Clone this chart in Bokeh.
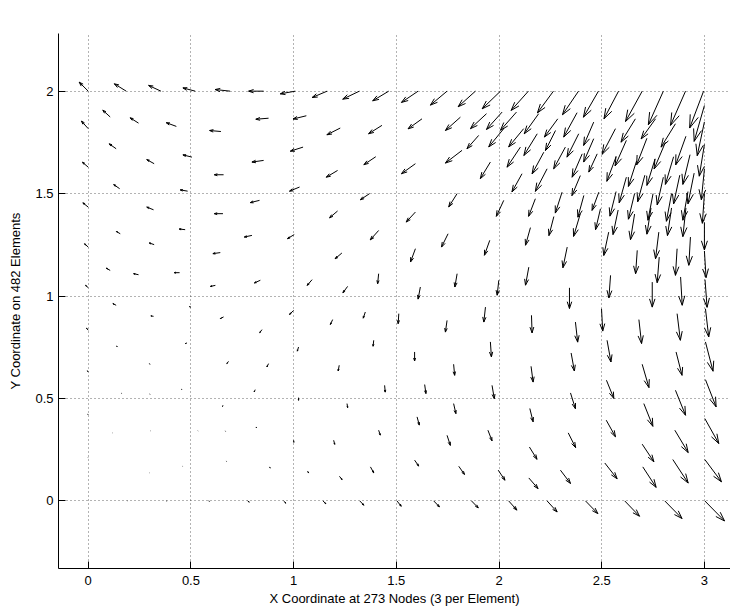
import numpy as np
from bokeh.plotting import figure
from bokeh.models import Range1d, FixedTicker, Label
from bokeh.embed import file_html
from bokeh.resources import INLINE

# ---------------- data (node position + drawn flux vector) -------------
node_x = [
    # top edge y = 2
    0.000, 0.185, 0.354, 0.521, 0.691, 0.854, 1.008, 1.163, 1.320, 1.463, 1.606, 1.747,
    1.885, 2.007, 2.143, 2.265, 2.387, 2.484, 2.582, 2.697, 2.800, 2.908, 2.996,
    # left edge x = 0
    0.000, 0.000, 0.000, 0.000, 0.000, 0.000, 0.000, 0.000, 0.000,
    # bottom edge y = 0
    0.000, 0.190, 0.380, 0.586, 0.776, 0.951, 1.143, 1.322, 1.503, 1.682, 1.866, 2.047,
    2.234, 2.421, 2.612, 2.807, 3.002,
    # upper left interior
    0.107, 0.245, 0.429, 0.646, 0.878, 1.062, 1.227, 0.136, 0.321, 0.505, 0.854, 0.659,
    1.046, 1.214, 1.400, 0.153, 0.484, 1.029, 0.318, 0.656, 0.834, 1.214, 0.156, 0.472,
    0.321, 0.797, 1.003, 0.643, 1.235, 0.107, 0.245, 0.445, 0.619, 0.838, 1.090, 1.263, 1.370,
    # lower left interior
    0.136, 0.318, 0.497, 0.659, 1.000, 1.190, 0.846, 0.143, 0.481, 1.024, 0.302, 0.683,
    0.878, 1.222, 0.456, 0.164, 0.302, 0.813, 1.024, 1.260, 0.656, 0.120, 0.302, 0.534,
    0.667, 0.818, 1.000, 1.195, 0.151, 0.297, 0.459, 0.672, 0.883, 1.068, 1.223, 1.349,
    # lower right interior
    1.374, 1.589, 1.804, 1.996, 2.145, 2.299, 2.515, 2.700, 2.846, 3.002,
    1.414, 1.601, 1.747, 1.946, 2.148, 2.337, 2.522, 2.697, 2.856, 3.002,
    1.443, 1.638, 1.779, 1.966, 2.150, 2.348, 2.523, 2.705, 2.859, 3.005,
    1.390, 1.589, 1.779, 1.958, 2.156, 2.351, 2.526, 2.697, 2.862, 3.005,
    1.512, 1.747, 1.934, 2.158, 2.372, 2.499, 2.681, 2.867, 3.005,
    # upper middle
    1.430, 1.625, 1.812, 1.820, 1.593, 1.796, 1.593, 1.752, 1.414, 1.593, 1.414, 1.617,
    1.796, 1.999, 2.145, 2.343, 2.332, 2.543, 2.746, 2.884,
    2.023, 2.177, 2.307, 2.413, 2.486, 2.494, 2.267, 2.396, 2.153, 1.955,
    2.534, 2.673, 2.778, 2.867, 2.932,
    1.939, 2.015, 2.085, 2.193, 2.286, 2.380, 2.461, 2.023, 2.120, 2.186, 2.275, 2.388,
    2.461, 1.901, 2.104, 2.218, 2.323, 2.405, 2.478, 1.958, 2.112, 2.234, 2.396,
    # upper right corner
    2.664, 2.762, 2.859, 2.567, 2.620, 2.720, 2.810, 2.910, 2.570, 2.670, 2.760, 2.850,
    2.930, 2.620, 2.710, 2.800, 2.880, 2.950, 2.570, 2.660, 2.750, 2.840, 2.920, 2.580,
    2.660, 2.740, 2.840, 2.910, 2.780,
    # right edge x = 3
    3.003, 3.000, 3.000, 3.000, 3.000, 3.000, 3.000, 3.000,
]
node_y = [
    2.000, 2.000, 2.000, 2.000, 2.000, 2.000, 2.000, 2.000, 2.000, 2.000, 2.000, 2.000,
    2.000, 2.000, 2.000, 2.000, 2.000, 2.000, 2.000, 2.000, 2.000, 2.000, 2.000,
    1.817, 1.629, 1.434, 1.239, 1.041, 0.833, 0.629, 0.420, 0.210,
    0.000, 0.000, 0.000, 0.000, 0.000, 0.000, 0.000, 0.000, 0.000, 0.000, 0.000, 0.000,
    0.000, 0.000, 0.000, 0.000, 0.000,
    1.874, 1.844, 1.828, 1.803, 1.868, 1.880, 1.820, 1.719, 1.646, 1.678, 1.662, 1.592,
    1.727, 1.613, 1.680, 1.524, 1.512, 1.532, 1.421, 1.402, 1.467, 1.415, 1.304, 1.324,
    1.251, 1.296, 1.300, 1.212, 1.210, 1.125, 1.104, 1.114, 1.052, 1.077, 1.080, 1.047, 1.500,
    0.955, 0.901, 0.943, 0.898, 0.930, 0.885, 0.836, 0.751, 0.771, 0.751, 0.667, 0.681,
    0.670, 0.662, 0.543, 0.524, 0.520, 0.543, 0.504, 0.475, 0.467, 0.332, 0.342, 0.342,
    0.342, 0.361, 0.296, 0.296, 0.171, 0.137, 0.169, 0.195, 0.166, 0.146, 0.120, 0.922,
    0.166, 0.199, 0.169, 0.150, 0.112, 0.150, 0.185, 0.166, 0.202, 0.202,
    0.345, 0.410, 0.320, 0.345, 0.263, 0.332, 0.394, 0.277, 0.345, 0.402,
    0.564, 0.568, 0.475, 0.564, 0.451, 0.527, 0.589, 0.475, 0.540, 0.592,
    0.784, 0.727, 0.667, 0.776, 0.657, 0.722, 0.784, 0.667, 0.727, 0.776,
    0.914, 0.881, 0.946, 0.906, 0.873, 0.938, 0.885, 0.914, 0.938,
    1.833, 1.865, 1.873, 1.711, 1.646, 1.500, 1.410, 1.304, 1.320, 1.231, 1.109, 1.044,
    1.109, 1.077, 1.141, 1.040, 1.239, 1.101, 1.068, 1.093,
    1.467, 1.475, 1.507, 1.491, 1.507, 1.426, 1.388, 1.402, 1.334, 1.272,
    1.312, 1.223, 1.312, 1.231, 1.288,
    1.890, 1.898, 1.898, 1.890, 1.865, 1.895, 1.849, 1.817, 1.817, 1.792, 1.808, 1.792,
    1.768, 1.784, 1.727, 1.702, 1.727, 1.694, 1.694, 1.654, 1.597, 1.621, 1.588,
    1.865, 1.865, 1.841, 1.817, 1.760, 1.770, 1.750, 1.780, 1.680, 1.660, 1.670, 1.680,
    1.690, 1.580, 1.590, 1.580, 1.590, 1.600, 1.510, 1.500, 1.500, 1.500, 1.510, 1.420,
    1.400, 1.430, 1.430, 1.430, 1.190,
    1.080, 1.220, 1.360, 1.500, 1.620, 1.740, 1.850, 1.930,
]
flux_u = [
    -0.044, -0.058, -0.060, -0.060, -0.073, -0.073, -0.073, -0.073, -0.081, -0.078, -0.081, -0.081,
    -0.084, -0.089, -0.084, -0.078, -0.078, -0.073, -0.071, -0.081, -0.073, -0.073, -0.068,
    -0.033, -0.028, -0.026, -0.018, -0.013, -0.008, -0.004, -0.002, -0.001,
    0.000, 0.001, 0.002, 0.004, 0.008, 0.011, 0.014, 0.020, 0.021, 0.028, 0.033, 0.040,
    0.049, 0.060, 0.072, 0.084, 0.096,
    -0.036, -0.041, -0.049, -0.055, -0.062, -0.065, -0.065, -0.034, -0.036, -0.044, -0.057, -0.045,
    -0.062, -0.055, -0.058, -0.029, -0.036, -0.049, -0.033, -0.042, -0.045, -0.039, -0.019, -0.029,
    -0.024, -0.037, -0.033, -0.036, -0.033, -0.019, -0.024, -0.026, -0.024, -0.029, -0.024, -0.023, -0.045,
    -0.016, -0.013, -0.003, -0.016, -0.020, -0.011, -0.011, -0.005, -0.008, -0.006, -0.004, -0.008,
    -0.008, -0.005, -0.003, -0.002, -0.002, -0.005, 0.000, 0.003, -0.002, -0.001, 0.001, 0.001,
    0.001, 0.001, 0.001, 0.005, 0.000, 0.001, 0.001, 0.001, 0.003, 0.005, 0.013, -0.010,
    0.016, 0.020, 0.028, 0.033, 0.045, 0.049, 0.060, 0.065, 0.075, 0.081,
    0.008, 0.011, 0.016, 0.020, 0.037, 0.036, 0.045, 0.057, 0.065, 0.068,
    0.003, 0.006, 0.011, 0.011, 0.016, 0.024, 0.036, 0.044, 0.049, 0.052,
    -0.003, 0.000, 0.005, 0.005, 0.010, 0.016, 0.019, 0.033, 0.029, 0.037,
    -0.003, -0.008, -0.008, 0.003, 0.011, 0.006, 0.013, 0.016, 0.016,
    -0.065, -0.068, -0.073, -0.081, -0.068, -0.041, -0.045, -0.032, -0.041, -0.024, -0.005, -0.011,
    -0.011, -0.008, -0.016, 0.000, -0.021, -0.008, 0.000, 0.008,
    -0.036, -0.033, -0.033, -0.029, -0.033, -0.024, -0.024, -0.033, -0.024, -0.026,
    -0.024, -0.008, -0.016, -0.008, -0.008,
    -0.078, -0.076, -0.078, -0.070, -0.065, -0.065, -0.049, -0.073, -0.073, -0.065, -0.049, -0.057,
    -0.049, -0.057, -0.065, -0.057, -0.057, -0.049, -0.041, -0.049, -0.049, -0.057, -0.041,
    -0.070, -0.070, -0.070, -0.065, -0.055, -0.050, -0.055, -0.050, -0.045, -0.040, -0.040, -0.040,
    -0.035, -0.035, -0.035, -0.030, -0.030, -0.030, -0.030, -0.030, -0.025, -0.025, -0.025, -0.025,
    -0.020, -0.020, -0.020, -0.015, -0.010,
    0.010, 0.008, 0.000, -0.010, -0.015, -0.025, -0.035, -0.050,
]
flux_v = [
    0.044, 0.036, 0.028, 0.016, 0.008, 0.000, -0.013, -0.031, -0.039, -0.047, -0.055, -0.068,
    -0.076, -0.086, -0.094, -0.106, -0.115, -0.127, -0.135, -0.148, -0.164, -0.167, -0.180,
    0.037, 0.024, 0.021, 0.016, 0.011, 0.010, 0.006, 0.003, 0.001,
    0.000, 0.000, -0.001, -0.002, -0.006, -0.011, -0.014, -0.021, -0.026, -0.029, -0.034, -0.045,
    -0.054, -0.062, -0.075, -0.086, -0.098,
    0.033, 0.026, 0.018, 0.005, -0.005, -0.016, -0.033, 0.024, 0.020, 0.011, -0.008, 0.000,
    -0.020, -0.033, -0.039, 0.020, 0.006, -0.020, 0.013, 0.000, -0.011, -0.033, 0.011, 0.003,
    0.008, -0.008, -0.020, -0.005, -0.028, 0.011, 0.005, 0.000, -0.005, -0.013, -0.028, -0.031, -0.030,
    0.008, 0.002, 0.008, -0.008, -0.020, -0.024, -0.015, 0.005, -0.003, -0.020, 0.002, -0.011,
    -0.016, -0.028, 0.003, 0.001, 0.001, -0.011, -0.013, -0.020, -0.006, 0.000, 0.000, -0.001,
    -0.002, -0.005, -0.010, -0.020, 0.000, 0.000, -0.001, -0.002, -0.006, -0.010, -0.016, -0.030,
    -0.029, -0.029, -0.040, -0.049, -0.052, -0.065, -0.077, -0.100, -0.115, -0.109,
    -0.024, -0.040, -0.049, -0.052, -0.060, -0.072, -0.081, -0.086, -0.109, -0.122,
    -0.033, -0.044, -0.049, -0.065, -0.065, -0.077, -0.089, -0.111, -0.122, -0.133,
    -0.029, -0.044, -0.054, -0.073, -0.077, -0.088, -0.106, -0.114, -0.114, -0.143,
    -0.049, -0.057, -0.073, -0.086, -0.098, -0.109, -0.117, -0.130, -0.138,
    -0.041, -0.049, -0.065, -0.062, -0.049, -0.065, -0.049, -0.065, -0.046, -0.065, -0.049, -0.059,
    -0.065, -0.073, -0.088, -0.101, -0.101, -0.110, -0.122, -0.138,
    -0.078, -0.086, -0.102, -0.106, -0.089, -0.102, -0.093, -0.111, -0.086, -0.073,
    -0.114, -0.114, -0.130, -0.130, -0.138,
    -0.073, -0.085, -0.089, -0.098, -0.089, -0.119, -0.114, -0.089, -0.089, -0.106, -0.098, -0.114,
    -0.114, -0.065, -0.098, -0.106, -0.106, -0.114, -0.089, -0.081, -0.089, -0.110, -0.098,
    -0.114, -0.098, -0.114, -0.125, -0.125, -0.130, -0.130, -0.140, -0.120, -0.125, -0.130, -0.135,
    -0.145, -0.125, -0.130, -0.135, -0.140, -0.150, -0.120, -0.125, -0.130, -0.135, -0.140, -0.120,
    -0.125, -0.128, -0.135, -0.140, -0.125,
    -0.135, -0.130, -0.135, -0.145, -0.150, -0.155, -0.165, -0.175,
]

x_ticks = [0, 0.5, 1, 1.5, 2, 2.5, 3]
x_tick_labels = ["0", "0.5", "1", "1.5", "2", "2.5", "3"]
y_ticks = [0, 0.5, 1, 1.5, 2]
y_tick_labels = ["0", "0.5", "1", "1.5", "2"]

title_text = "Exact Nodal 2\u2212D Flux Vectors, max = 55.1543 (at 3)"
x_label = "X Coordinate at 273 Nodes (3 per Element)"
y_label = "Y Coordinate on 482 Elements"

FONT = "Liberation Sans"

# ---------------- quiver geometry (MATLAB-style open arrow heads) -----------------------------
X = np.array(node_x, dtype=float)
Y = np.array(node_y, dtype=float)
U = np.array(flux_u, dtype=float)
V = np.array(flux_v, dtype=float)
ALPHA, BETA = 0.33, 0.33
tx, ty = X + U, Y + V
h1x = tx - ALPHA * (U + BETA * V)
h1y = ty - ALPHA * (V - BETA * U)
h2x = tx - ALPHA * (U - BETA * V)
h2y = ty - ALPHA * (V + BETA * U)

p = figure(width=730, height=611,
           x_range=Range1d(-0.1447, 3.127), y_range=Range1d(-0.330, 2.2815),
           output_backend="svg", toolbar_location=None, title=None,
           min_border_left=58, min_border_right=0, min_border_top=33, min_border_bottom=43)
p.outline_line_color = None
p.background_fill_color = "white"
p.border_fill_color = "white"

p.segment(x0=X, y0=Y, x1=tx, y1=ty, line_color="black", line_width=1)
p.multi_line(xs=[[a, b, c] for a, b, c in zip(h1x, tx, h2x)],
             ys=[[a, b, c] for a, b, c in zip(h1y, ty, h2y)],
             line_color="black", line_width=1)

for ax, ticks, labels in ((p.xaxis[0], x_ticks, x_tick_labels),
                          (p.yaxis[0], y_ticks, y_tick_labels)):
    ax.ticker = FixedTicker(ticks=ticks)
    ax.major_label_overrides = {float(t): s for t, s in zip(ticks, labels)}
    ax.major_tick_in = 7
    ax.major_tick_out = 0
    ax.minor_tick_line_color = None
    ax.axis_line_color = "black"
    ax.major_tick_line_color = "black"
    ax.major_label_text_font = FONT
    ax.major_label_text_font_size = "13px"
    ax.major_label_text_color = "black"
    ax.axis_label_text_font = FONT
    ax.axis_label_text_font_size = "13px"
    ax.axis_label_text_font_style = "normal"
    ax.axis_label_text_color = "black"

p.xaxis.axis_label = x_label
p.yaxis.axis_label = y_label
p.xaxis.major_label_standoff = 7
p.xaxis.axis_label_standoff = 3
p.yaxis.major_label_standoff = 5
p.yaxis.axis_label_standoff = 9

for g in (p.xgrid, p.ygrid):
    g.grid_line_color = "black"
    g.grid_line_alpha = 0.6
    g.grid_line_dash = "1 3"
    g.grid_line_width = 1

p.add_layout(Label(x=1.506, y=2.3595, text=title_text, text_align="center",
                   text_baseline="middle", text_font=FONT, text_font_size="13px",
                   text_color="black"))

open("out.html", "w").write(file_html(p, INLINE))
